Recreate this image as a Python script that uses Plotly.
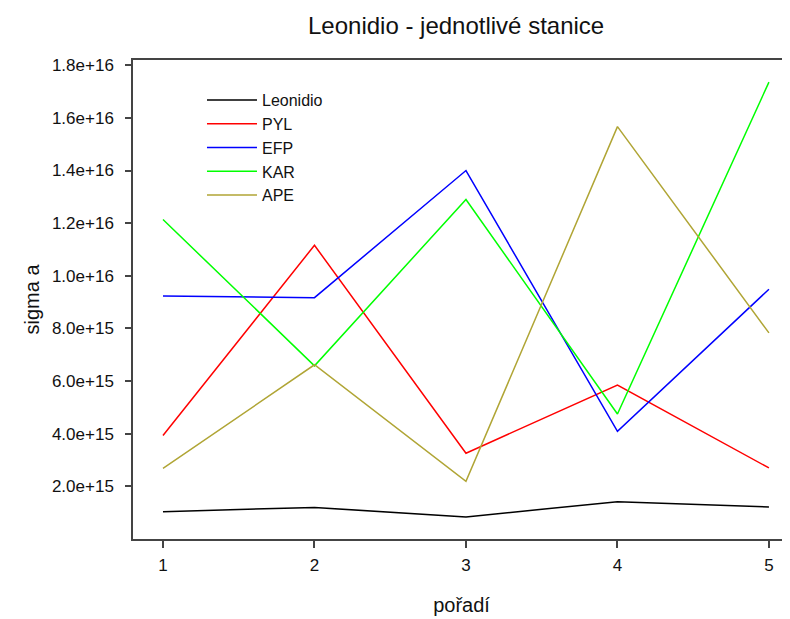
import plotly.graph_objects as go

# ---- data ----
x_order = [1, 2, 3, 4, 5]
leonidio = [1.04e15, 1.20e15, 0.84e15, 1.42e15, 1.22e15]
pyl = [3.93e15, 11.16e15, 3.26e15, 5.85e15, 2.70e15]
efp = [9.23e15, 9.17e15, 14.0e15, 4.09e15, 9.49e15]
kar = [12.14e15, 6.58e15, 12.9e15, 4.75e15, 17.36e15]
ape = [2.68e15, 6.62e15, 2.19e15, 15.67e15, 7.83e15]

series_names = ["Leonidio", "PYL", "EFP", "KAR", "APE"]
series_values = [leonidio, pyl, efp, kar, ape]
series_colors = ["#000000", "#ff0000", "#0000ff", "#00ff00", "#b0a535"]

y_tickvals = [2e15, 4e15, 6e15, 8e15, 10e15, 12e15, 14e15, 16e15, 18e15]
y_ticktext = ["2.0e+15", "4.0e+15", "6.0e+15", "8.0e+15", "1.0e+16",
              "1.2e+16", "1.4e+16", "1.6e+16", "1.8e+16"]

font_family = "Liberation Sans, Arial, sans-serif"

fig = go.Figure()
for name, vals, col in zip(series_names, series_values, series_colors):
    fig.add_trace(go.Scatter(
        x=x_order, y=vals, mode="lines", name=name,
        line=dict(color=col, width=1.5),
    ))

fig.update_layout(
    width=782, height=611,
    margin=dict(l=125, r=0, t=52, b=80),
    paper_bgcolor="white", plot_bgcolor="white",
    font=dict(family=font_family, color="#111111", size=17),
    title=dict(text="Leonidio - jednotlivé stanice", x=0.573, xref="container",
               xanchor="center", y=0.972, yref="container", yanchor="middle",
               font=dict(size=24, color="#111111")),
    showlegend=True,
    legend=dict(x=0.105, y=0.952, xanchor="left", yanchor="top",
                bgcolor="rgba(0,0,0,0)", borderwidth=0, itemwidth=50,
                font=dict(size=16), tracegroupgap=0),
    xaxis=dict(
        range=[0.802, 5.139], tickvals=x_order, ticktext=[str(v) for v in x_order],
        showgrid=False, zeroline=False, showline=True, linecolor="#444444",
        linewidth=1.5, mirror=True, ticks="outside", ticklen=7,
        tickcolor="#444444", tickwidth=1.5, ticklabelstandoff=3,
        title=dict(text="pořadí", font=dict(size=20), standoff=24),
    ),
    yaxis=dict(
        range=[0, 1.82e16], tickvals=y_tickvals, ticktext=y_ticktext,
        showgrid=False, zeroline=False, showline=True, linecolor="#444444",
        linewidth=1.5, mirror=False, ticks="outside", ticklen=6,
        tickcolor="#444444", tickwidth=1.5, ticklabelstandoff=8,
        title=dict(text="sigma a", font=dict(size=20), standoff=7),
    ),
)

fig.write_html("out.html")
